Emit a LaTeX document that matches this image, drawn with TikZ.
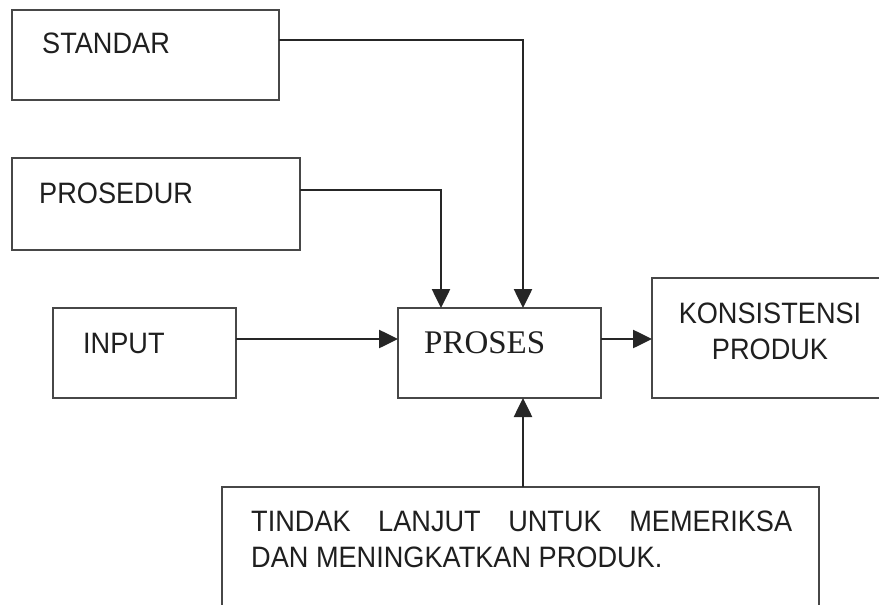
\documentclass[tikz,border=0pt]{standalone}
\usepackage{fontspec}
\setmainfont{Liberation Serif}
\newfontfamily\labelfont[FakeStretch=0.92]{Liberation Sans}
\usetikzlibrary{arrows.meta}

\tikzset{
  box/.style={draw=black!72, line width=1.8pt, inner sep=0pt, outer sep=0pt,
    anchor=north west, fill=white},
  lbl/.style={anchor=base west, inner sep=0pt, text=black!88,
    font=\labelfont\fontsize{29.5}{36}\selectfont},
  wire/.style={draw=black!85, line width=2.6pt},
  flow/.style={wire, -{Triangle[length=19pt,width=18pt]}}
}

\begin{document}
\begin{tikzpicture}[x=1pt, y=-1pt]
  \useasboundingbox (0,0) rectangle (879,605);
  \clip (0,0) rectangle (879,605);

  % boxes
  \node[box, minimum width=267pt, minimum height=90pt] (standar) at (12,10) {};
  \node[box, minimum width=288pt, minimum height=92pt] (prosedur) at (12,158) {};
  \node[box, minimum width=183pt, minimum height=90pt] (input) at (53,308) {};
  \node[box, minimum width=203pt, minimum height=90pt] (proses) at (398,308) {};
  \node[box, minimum width=260pt, minimum height=120pt] (konsistensi) at (652,278) {};
  \node[box, minimum width=597pt, minimum height=140pt] (tindak) at (222,487) {};

  % labels (multi-line nodes sit on the baseline of their last line)
  \node[lbl] (standar-t) at (42,53) {STANDAR};
  \node[lbl] (prosedur-t) at (39,203) {PROSEDUR};
  \node[lbl] (input-t) at (83,353) {INPUT};
  \node[anchor=base west, inner sep=0pt, text=black!88,
        font=\fontsize{33}{36}\selectfont] (proses-t) at (424,353) {PROSES};
  \node[lbl, anchor=base, align=center] (konsistensi-t) at (770,359)
    {KONSISTENSI\\PRODUK};
  \node[lbl, align=left] (tindak-t) at (251,567)
    {\makebox[541pt][s]{TINDAK LANJUT UNTUK MEMERIKSA}\\DAN MENINGKATKAN PRODUK.};

  % routing points
  \coordinate (sbend) at (523,40);
  \coordinate (pbend) at (441,190);
  \coordinate (mid) at (0,339);

  % connectors
  \draw[flow] (standar.east |- sbend) -- (sbend) -- (proses.north -| sbend);
  \draw[flow] (prosedur.east |- pbend) -- (pbend) -- (proses.north -| pbend);
  \draw[flow] (input.east |- mid) -- (proses.west |- mid);
  \draw[flow] (proses.east |- mid) -- (konsistensi.west |- mid);
  \draw[flow] (tindak.north -| sbend) -- (proses.south -| sbend);
\end{tikzpicture}
\end{document}
